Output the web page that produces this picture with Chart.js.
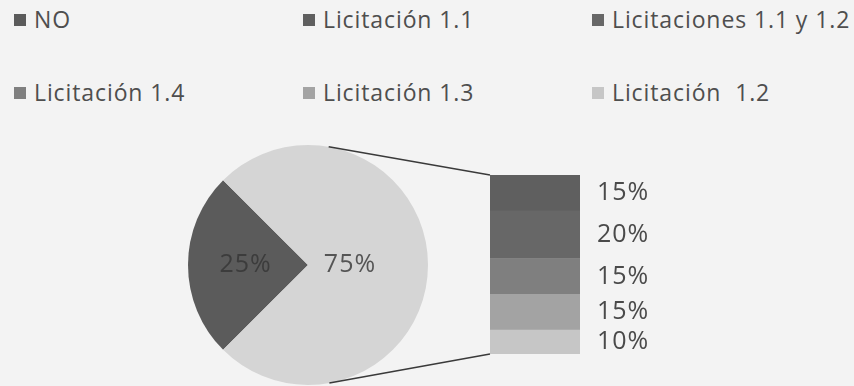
<!DOCTYPE html>
<html lang="es">
<head>
<meta charset="utf-8">
<script src="https://cdn.jsdelivr.net/npm/chart.js@4.4.0/dist/chart.umd.min.js"></script>
<style>
  html, body { margin: 0; padding: 0; }
  body {
    width: 854px; height: 386px; position: relative; overflow: hidden;
    background: #f3f3f3; font-family: 'Open Sans', sans-serif; color: #4e4e4e;
  }
  .capa { position: absolute; left: 0; top: 0; }
  .item {
    position: absolute; height: 30px; display: flex; align-items: center;
    font-size: 23px; letter-spacing: 0.9px; white-space: pre;
  }
  .item i { display: block; width: 12px; height: 12px; margin: 2px 8px 0 0; }
</style>
</head>
<body>
<div id="leyenda"></div>
<canvas id="pastel" class="capa" width="854" height="386"></canvas>
<canvas id="barra" class="capa" width="854" height="386"></canvas>
<script>
// sectores del círculo
const sectores = ['NO', 'Otros'];
const valoresSectores = [25, 75];

// desglose de "Otros" en la barra, de arriba abajo
const licitaciones = ['Licitación 1.1', 'Licitaciones 1.1 y 1.2', 'Licitación 1.4', 'Licitación 1.3', 'Licitación  1.2'];
const valoresLicitaciones = [15, 20, 15, 15, 10];

const colorNO = '#5b5b5b';
const colorOtros = '#d5d5d5';
const coloresLicitaciones = ['#5f5f5f', '#676767', '#7f7f7f', '#a3a3a3', '#c6c6c6'];

// leyenda en dos filas
const posLeyenda = [[14, 4], [303, 4], [592, 4], [14, 77], [303, 77], [592, 77]];
const nombresLeyenda = [sectores[0]].concat(licitaciones);
const coloresLeyenda = [colorNO].concat(coloresLicitaciones);
const leyenda = document.getElementById('leyenda');
nombresLeyenda.forEach((nombre, i) => {
  const item = document.createElement('div');
  item.className = 'item';
  item.style.left = posLeyenda[i][0] + 'px';
  item.style.top = posLeyenda[i][1] + 'px';
  const cuadro = document.createElement('i');
  cuadro.style.background = coloresLeyenda[i];
  item.appendChild(cuadro);
  item.appendChild(document.createTextNode(nombre));
  leyenda.appendChild(item);
});

// porcentajes dentro del círculo
const distanciaEtiqueta = [0.52, 0.35];
const colorTextoPastel = ['#3c3c3c', '#555555'];
const etiquetasPastel = {
  id: 'etiquetasPastel',
  afterDatasetsDraw(chart) {
    const ctx = chart.ctx;
    ctx.save();
    ctx.font = '25px "Open Sans"';
    ctx.letterSpacing = '1px';
    ctx.textAlign = 'center';
    ctx.textBaseline = 'middle';
    chart.getDatasetMeta(0).data.forEach((arco, i) => {
      const medio = (arco.startAngle + arco.endAngle) / 2;
      const r = arco.outerRadius * distanciaEtiqueta[i];
      ctx.fillStyle = colorTextoPastel[i];
      ctx.fillText(valoresSectores[i] + '%', arco.x + Math.cos(medio) * r, arco.y + Math.sin(medio) * r);
    });
    ctx.restore();
  }
};

const pastel = new Chart(document.getElementById('pastel'), {
  type: 'pie',
  data: {
    labels: sectores,
    datasets: [{ data: valoresSectores, backgroundColor: [colorNO, colorOtros], borderWidth: 0 }]
  },
  options: {
    responsive: false,
    animation: false,
    rotation: 225,
    layout: { padding: { left: 188, top: 145, right: 426, bottom: 1 } },
    plugins: { legend: { display: false }, tooltip: { enabled: false } }
  },
  plugins: [etiquetasPastel]
});

// porcentajes a la derecha de la barra
const etiquetasBarra = {
  id: 'etiquetasBarra',
  afterDatasetsDraw(chart) {
    const ctx = chart.ctx;
    ctx.save();
    ctx.font = '25px "Open Sans"';
    ctx.letterSpacing = '1px';
    ctx.fillStyle = '#4a4a4a';
    ctx.textAlign = 'left';
    ctx.textBaseline = 'middle';
    chart.data.datasets.forEach((ds, i) => {
      const b = chart.getDatasetMeta(i).data[0];
      ctx.fillText(ds.data[0] + '%', b.x + b.width / 2 + 17, (b.y + b.base) / 2);
    });
    ctx.restore();
  }
};

// líneas tangentes del círculo a las esquinas de la barra
const conectores = {
  id: 'conectores',
  afterDatasetsDraw(chart) {
    const arco = pastel.getDatasetMeta(0).data[0];
    const cx = arco.x, cy = arco.y, r = arco.outerRadius;
    const n = chart.data.datasets.length;
    const abajo = chart.getDatasetMeta(0).data[0];
    const arriba = chart.getDatasetMeta(n - 1).data[0];
    const izq = arriba.x - arriba.width / 2;
    const tangente = (px, py, lado) => {
      const ang = Math.atan2(py - cy, px - cx) + lado * Math.acos(r / Math.hypot(px - cx, py - cy));
      return [cx + r * Math.cos(ang), cy + r * Math.sin(ang)];
    };
    const ctx = chart.ctx;
    ctx.save();
    ctx.strokeStyle = '#3a3a3a';
    ctx.lineWidth = 1.5;
    [[arriba.y, -1], [abajo.base, 1]].forEach(([py, lado]) => {
      const [tx, ty] = tangente(izq, py, lado);
      ctx.beginPath();
      ctx.moveTo(tx, ty);
      ctx.lineTo(izq, py);
      ctx.stroke();
    });
    ctx.restore();
  }
};

// la barra apila de abajo arriba
const barra = new Chart(document.getElementById('barra'), {
  type: 'bar',
  data: {
    labels: [sectores[1]],
    datasets: licitaciones.map((nombre, i) => ({
      label: nombre,
      data: [valoresLicitaciones[i]],
      backgroundColor: coloresLicitaciones[i],
      borderWidth: 0
    })).reverse()
  },
  options: {
    responsive: false,
    animation: false,
    layout: { padding: { left: 490, right: 274, top: 175, bottom: 32 } },
    datasets: { bar: { barPercentage: 1, categoryPercentage: 1 } },
    scales: {
      x: { stacked: true, display: false },
      y: { stacked: true, display: false, min: 0, max: valoresSectores[1] }
    },
    plugins: { legend: { display: false }, tooltip: { enabled: false } }
  },
  plugins: [etiquetasBarra, conectores]
});
</script>
</body>
</html>
